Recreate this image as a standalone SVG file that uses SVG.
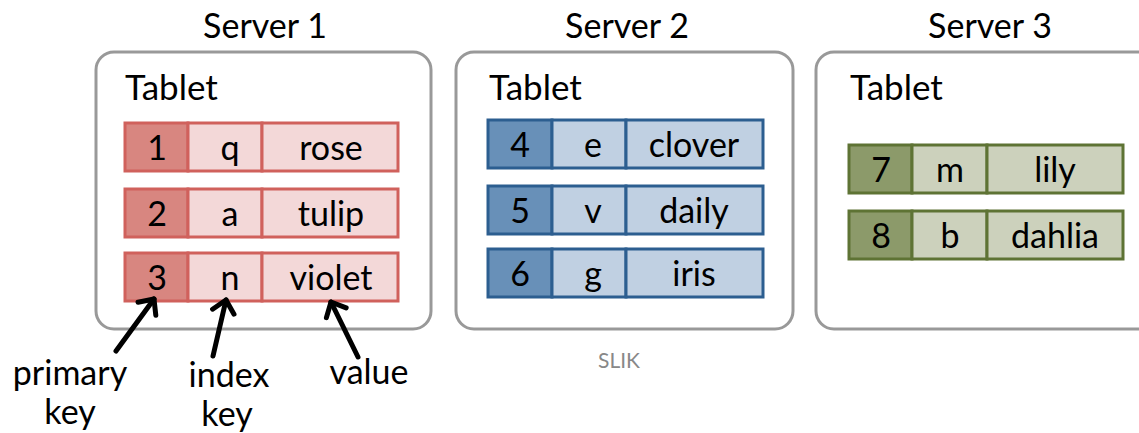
<svg xmlns="http://www.w3.org/2000/svg" width="1139" height="433" viewBox="0 0 1139 433">
  <style>
    text { font-family: Lato, "Open Sans", "Liberation Sans", sans-serif; fill: #000; }
    .title { font-size: 34px; text-anchor: middle; }
    .tablet { font-size: 35px; }
    .cell { font-size: 34px; text-anchor: middle; }
    .label { font-size: 34px; text-anchor: middle; }
    .slik { font-size: 21px; fill: #888; text-anchor: middle; }
    .server { fill: #fff; stroke: #999; stroke-width: 3; }
    .red .k { fill: #d88680; } .red .c { fill: #f3d8d8; } .red rect { stroke: #d0615c; stroke-width: 3; }
    .blue .k { fill: #6890b8; } .blue .c { fill: #c0d0e2; } .blue rect { stroke: #2c5e90; stroke-width: 3; }
    .green .k { fill: #8c9a6a; } .green .c { fill: #ccd1bc; } .green rect { stroke: #5e7334; stroke-width: 3; }
    .arrow { fill: none; stroke: #000; stroke-width: 5; stroke-linecap: round; }
  </style>
  <defs>
    <marker id="chev" markerUnits="userSpaceOnUse" markerWidth="30" markerHeight="30" refX="15" refY="15" orient="auto" viewBox="0 0 30 30">
      <path d="M3,4 L15,15 L3,26" fill="none" stroke="#000" stroke-width="5" stroke-linecap="round" stroke-linejoin="round"/>
    </marker>
  </defs>

  <!-- Server 1 -->
  <g id="server1">
    <text class="title" x="265" y="38">Server 1</text>
    <rect class="server" x="96" y="52" width="335" height="277" rx="18"/>
    <text class="tablet" x="125" y="100">Tablet</text>
    <g class="red">
      <rect class="k" x="125" y="123" width="63" height="48"/>
      <rect class="c" x="188" y="123" width="74" height="48"/>
      <rect class="c" x="262" y="123" width="136" height="48"/>
      <text class="cell" x="157" y="160">1</text>
      <text class="cell" x="230" y="160">q</text>
      <text class="cell" x="331" y="160">rose</text>

      <rect class="k" x="125" y="189" width="63" height="48"/>
      <rect class="c" x="188" y="189" width="74" height="48"/>
      <rect class="c" x="262" y="189" width="136" height="48"/>
      <text class="cell" x="157" y="226">2</text>
      <text class="cell" x="230" y="226">a</text>
      <text class="cell" x="331" y="226">tulip</text>

      <rect class="k" x="125" y="253" width="63" height="48"/>
      <rect class="c" x="188" y="253" width="74" height="48"/>
      <rect class="c" x="262" y="253" width="136" height="48"/>
      <text class="cell" x="157" y="290">3</text>
      <text class="cell" x="230" y="290">n</text>
      <text class="cell" x="331" y="290">violet</text>
    </g>
  </g>

  <!-- Server 2 -->
  <g id="server2">
    <text class="title" x="627" y="38">Server 2</text>
    <rect class="server" x="456" y="52" width="337" height="277" rx="18"/>
    <text class="tablet" x="489" y="100">Tablet</text>
    <g class="blue">
      <rect class="k" x="488" y="120" width="64" height="48"/>
      <rect class="c" x="552" y="120" width="74" height="48"/>
      <rect class="c" x="626" y="120" width="137" height="48"/>
      <text class="cell" x="520" y="157">4</text>
      <text class="cell" x="593" y="157">e</text>
      <text class="cell" x="694" y="157">clover</text>

      <rect class="k" x="488" y="186" width="64" height="48"/>
      <rect class="c" x="552" y="186" width="74" height="48"/>
      <rect class="c" x="626" y="186" width="137" height="48"/>
      <text class="cell" x="520" y="223">5</text>
      <text class="cell" x="593" y="223">v</text>
      <text class="cell" x="694" y="223">daily</text>

      <rect class="k" x="488" y="249" width="64" height="48"/>
      <rect class="c" x="552" y="249" width="74" height="48"/>
      <rect class="c" x="626" y="249" width="137" height="48"/>
      <text class="cell" x="520" y="286">6</text>
      <text class="cell" x="593" y="286">g</text>
      <text class="cell" x="694" y="286">iris</text>
    </g>
  </g>

  <!-- Server 3 -->
  <g id="server3">
    <text class="title" x="990" y="38">Server 3</text>
    <rect class="server" x="816" y="52" width="345" height="277" rx="18"/>
    <text class="tablet" x="850" y="100">Tablet</text>
    <g class="green">
      <rect class="k" x="849" y="145" width="63" height="48"/>
      <rect class="c" x="912" y="145" width="75" height="48"/>
      <rect class="c" x="987" y="145" width="136" height="48"/>
      <text class="cell" x="881" y="182">7</text>
      <text class="cell" x="950" y="182">m</text>
      <text class="cell" x="1055" y="182">lily</text>

      <rect class="k" x="849" y="211" width="63" height="48"/>
      <rect class="c" x="912" y="211" width="75" height="48"/>
      <rect class="c" x="987" y="211" width="136" height="48"/>
      <text class="cell" x="881" y="248">8</text>
      <text class="cell" x="950" y="248">b</text>
      <text class="cell" x="1055" y="248">dahlia</text>
    </g>
  </g>

  <!-- Field labels -->
  <g id="labels">
    <text class="label" x="70" y="385">primary</text>
    <text class="label" x="70" y="424">key</text>
    <text class="label" x="229" y="387">index</text>
    <text class="label" x="227" y="426">key</text>
    <text class="label" x="369" y="384">value</text>
    <text class="slik" x="619" y="368">SLIK</text>
  </g>

  <!-- Pointers from labels to fields -->
  <g id="connectors">
    <path class="arrow" d="M116,351 L154,299" marker-end="url(#chev)"/>
    <path class="arrow" d="M213,356 L226,300" marker-end="url(#chev)"/>
    <path class="arrow" d="M358,357 L331,302" marker-end="url(#chev)"/>
  </g>
</svg>
